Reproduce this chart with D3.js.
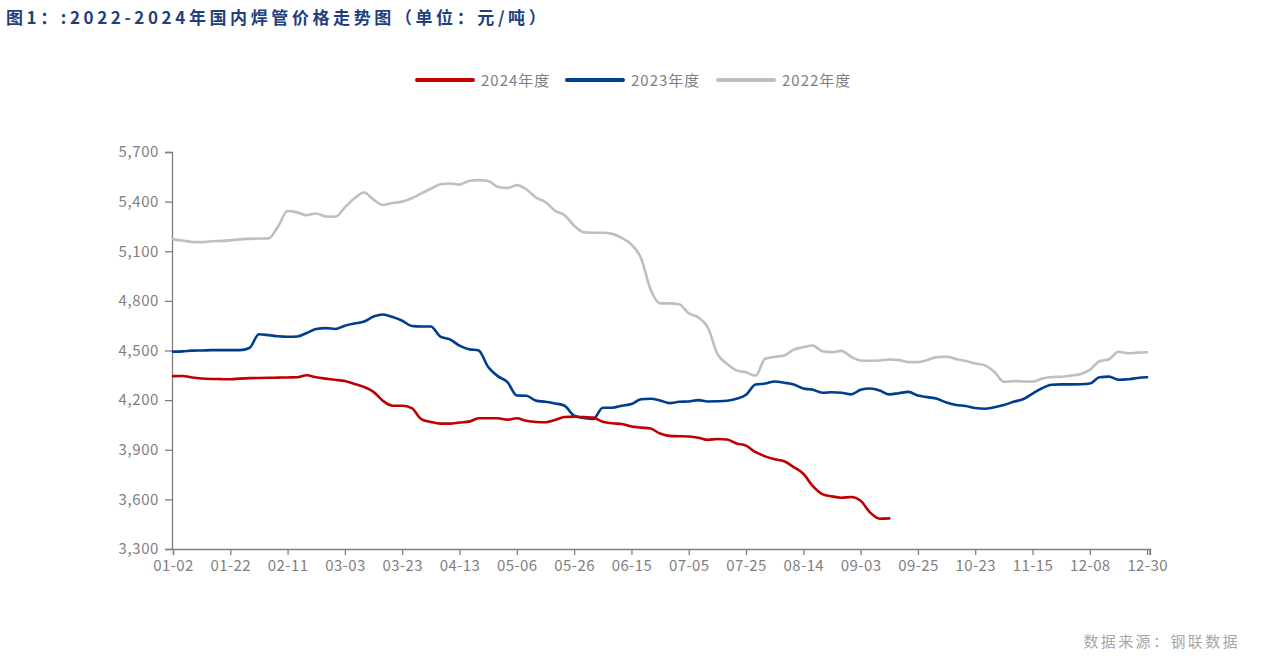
<!DOCTYPE html>
<html>
<head>
<meta charset="utf-8">
<script src="https://cdn.jsdelivr.net/npm/d3@7"></script>
<style>
  html, body { margin: 0; padding: 0; background: #fff; }
  svg { display: block; }
  text { font-family: "Noto Sans CJK SC", "Noto Sans", sans-serif; }
</style>
</head>
<body>
<svg id="chart" width="1267" height="665"></svg>
<script>
// ---------- data ----------
const title = "图1：:2022-2024年国内焊管价格走势图（单位：元/吨）";
const source = "数据来源：钢联数据";
const tickLabels = ["01-02","01-22","02-11","03-03","03-23","04-13","05-06","05-26","06-15",
                    "07-05","07-25","08-14","09-03","09-25","10-23","11-15","12-08","12-30"];
const yTicks = [3300, 3600, 3900, 4200, 4500, 4800, 5100, 5400, 5700];
const seriesNames = ["2024年度", "2023年度", "2022年度"];

const values2024 = [4345,4346,4337,4331,4328,4327,4326,4330,4333,4334,4335,4336,4337,4338,4350,4338,
  4330,4323,4315,4298,4280,4250,4195,4166,4166,4152,4085,4068,4058,4058,4065,4070,4090,4090,4090,
  4082,4090,4075,4068,4066,4080,4098,4100,4097,4094,4070,4060,4056,4040,4034,4028,3998,3984,3982,
  3980,3973,3960,3965,3962,3938,3925,3885,3860,3842,3830,3795,3755,3680,3632,3618,3610,3614,3592,
  3520,3483,3485];
const values2023 = [4493,4495,4499,4500,4502,4502,4502,4502,4515,4598,4593,4586,4583,4585,4606,4630,
  4635,4630,4650,4663,4675,4705,4718,4702,4680,4648,4645,4645,4584,4567,4530,4508,4500,4400,4345,
  4310,4228,4226,4197,4190,4180,4166,4106,4092,4086,4154,4154,4166,4176,4205,4208,4198,4182,4190,
  4192,4200,4192,4193,4196,4208,4232,4295,4300,4313,4305,4295,4270,4263,4245,4248,4245,4235,4262,
  4270,4258,4235,4242,4250,4228,4218,4208,4185,4170,4165,4152,4148,4157,4170,4190,4205,4240,4272,
  4293,4295,4295,4296,4300,4338,4342,4323,4326,4334,4338];
const values2022 = [5172,5165,5156,5155,5160,5162,5166,5172,5175,5177,5178,5250,5343,5335,5318,5328,
  5310,5309,5365,5420,5455,5412,5380,5392,5400,5420,5450,5478,5505,5510,5503,5525,5530,5525,5490,
  5482,5500,5475,5425,5398,5345,5318,5255,5215,5212,5212,5205,5180,5140,5060,4870,4785,4785,4780,
  4725,4700,4640,4480,4420,4380,4368,4348,4450,4462,4470,4505,4520,4530,4495,4490,4498,4462,4440,
  4438,4440,4446,4442,4430,4430,4443,4460,4462,4448,4437,4422,4410,4372,4311,4315,4313,4312,4330,
  4340,4341,4348,4357,4383,4435,4447,4492,4483,4487,4489];

const colors = ["#c00000", "#003d8f", "#bfbfbf"];

// ---------- layout ----------
const svg = d3.select("#chart");
const plot = { left: 173, right: 1150, top: 152, bottom: 549 };
const step = 6;                          // samples between labelled ticks
const nPoints = values2022.length;       // 103
const lastIdx = nPoints - 1 + 0.3;

const x = d3.scaleLinear().domain([0, lastIdx]).range([plot.left, plot.right]);
const y = d3.scaleLinear().domain([3300, 5700]).range([plot.bottom, plot.top]);

// title
svg.append("text")
  .attr("x", 6).attr("y", 24)
  .attr("font-size", 17).attr("font-weight", "bold")
  .attr("letter-spacing", 3.6)
  .attr("fill", "#1f3f7f")
  .text(title);

// legend
const legendItems = [
  { name: seriesNames[0], color: colors[0], x: 417 },
  { name: seriesNames[1], color: colors[1], x: 567 },
  { name: seriesNames[2], color: colors[2], x: 718 }
];
const lg = svg.append("g");
legendItems.forEach(d => {
  lg.append("line").attr("x1", d.x).attr("x2", d.x + 56).attr("y1", 80).attr("y2", 80)
    .attr("stroke", d.color).attr("stroke-width", 4).attr("stroke-linecap", "round");
  lg.append("text").attr("x", d.x + 64).attr("y", 86)
    .attr("font-size", 15).attr("letter-spacing", 1).attr("fill", "#7f7f7f").text(d.name);
});

// y axis
const yAxis = d3.axisLeft(y).tickValues(yTicks).tickSize(7).tickPadding(6)
  .tickFormat(d3.format(","));
const gy = svg.append("g").attr("transform", `translate(${plot.left - 1},0)`).call(yAxis);
gy.select(".domain").attr("stroke", "#7f7f7f").attr("stroke-width", 1.3);
gy.selectAll(".tick line").attr("stroke", "#7f7f7f").attr("stroke-width", 1.3);
gy.selectAll(".tick text").attr("fill", "#7f7f7f").attr("font-size", 15)
  .attr("letter-spacing", 0.6)
  .attr("font-family", "'Liberation Sans', Arial, sans-serif");

// x axis
const xTickVals = tickLabels.map((_, i) => i * step);
const xAxis = d3.axisBottom(x).tickValues(xTickVals).tickSize(6).tickPadding(5)
  .tickFormat((d, i) => tickLabels[i]);
const gx = svg.append("g").attr("transform", `translate(0,${plot.bottom})`).call(xAxis);
gx.select(".domain").attr("stroke", "#7f7f7f").attr("stroke-width", 1.3);
gx.selectAll(".tick line").attr("stroke", "#7f7f7f").attr("stroke-width", 1.3);
gx.selectAll(".tick text").attr("fill", "#7f7f7f").attr("font-size", 15)
  .attr("letter-spacing", 0.4)
  .attr("font-family", "'Liberation Sans', Arial, sans-serif");
// end tick
gx.append("line").attr("x1", x(lastIdx)).attr("x2", x(lastIdx)).attr("y1", 0).attr("y2", 6)
  .attr("stroke", "#7f7f7f").attr("stroke-width", 1.3);

// lines
const line = d3.line()
  .defined(d => d != null)
  .x((d, i) => x(i))
  .y(d => y(d))
  .curve(d3.curveMonotoneX);

const seriesData = [values2022, values2023, values2024];
const seriesColors = [colors[2], colors[1], colors[0]];
seriesData.forEach((vals, k) => {
  svg.append("path")
    .datum(vals)
    .attr("fill", "none")
    .attr("stroke", seriesColors[k])
    .attr("stroke-width", 2.6)
    .attr("stroke-linejoin", "round")
    .attr("stroke-linecap", "round")
    .attr("d", line);
});

// source
svg.append("text")
  .attr("x", 1240).attr("y", 647)
  .attr("text-anchor", "end")
  .attr("font-size", 15).attr("fill", "#a6a6a6")
  .attr("letter-spacing", 2.4)
  .text(source);
</script>
</body>
</html>
